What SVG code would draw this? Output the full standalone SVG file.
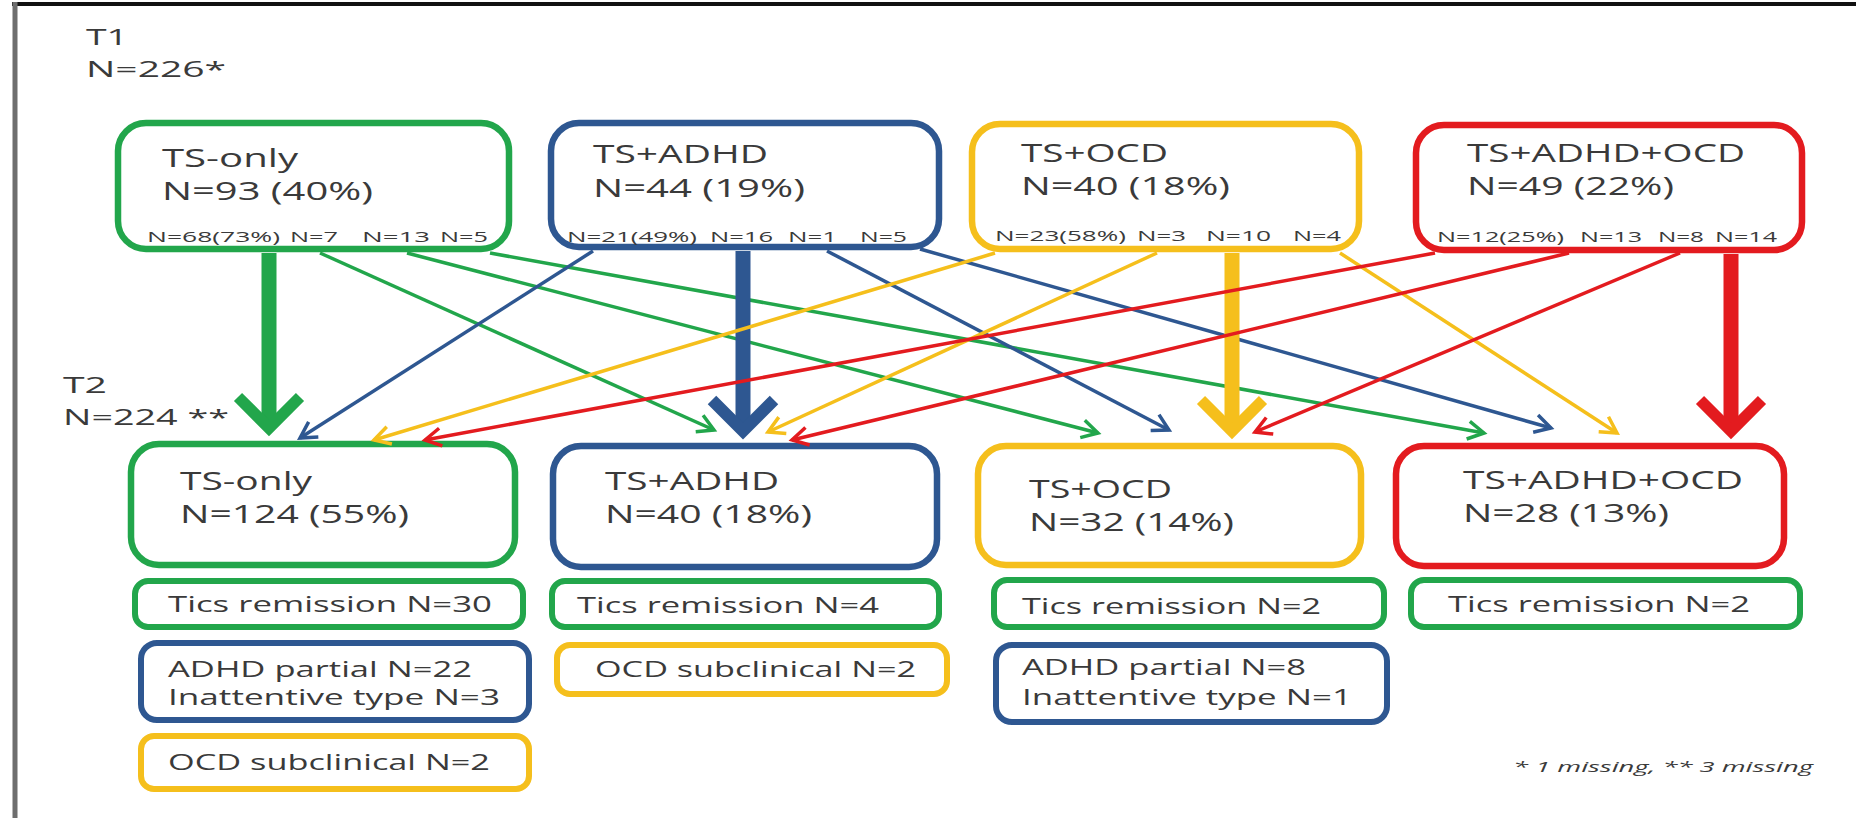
<svg xmlns="http://www.w3.org/2000/svg" width="1856" height="818" viewBox="0 0 1856 818">
<style>
.t{font-family:"Open Sans","Liberation Sans",sans-serif;fill:#3a3a3a;}
.big{font-size:25px;}
.sub{font-size:14px;}
.sm{font-size:21px;}
.lbl{font-size:21px;}
.foot{font-size:15px;font-style:italic;}
.box{fill:#fff;stroke-width:6.5;}
.sbox{fill:#fff;stroke-width:6;}
.g{stroke:#22a64b;}
.b{stroke:#2e5791;}
.y{stroke:#f5bf1c;}
.r{stroke:#e31b1f;}
.thin{fill:none;stroke-width:3.5;}
.thick{fill:none;stroke-width:15;}
</style>
<defs>
<marker id="aG" viewBox="-20 -12 24 24" markerWidth="24" markerHeight="24" refX="0" refY="0" orient="auto" markerUnits="userSpaceOnUse"><path d="M-16,-9 L0,0 L-16,9" fill="none" stroke="#22a64b" stroke-width="3.5"/></marker>
<marker id="aB" viewBox="-20 -12 24 24" markerWidth="24" markerHeight="24" refX="0" refY="0" orient="auto" markerUnits="userSpaceOnUse"><path d="M-16,-9 L0,0 L-16,9" fill="none" stroke="#2e5791" stroke-width="3.5"/></marker>
<marker id="aY" viewBox="-20 -12 24 24" markerWidth="24" markerHeight="24" refX="0" refY="0" orient="auto" markerUnits="userSpaceOnUse"><path d="M-16,-9 L0,0 L-16,9" fill="none" stroke="#f5bf1c" stroke-width="3.5"/></marker>
<marker id="aR" viewBox="-20 -12 24 24" markerWidth="24" markerHeight="24" refX="0" refY="0" orient="auto" markerUnits="userSpaceOnUse"><path d="M-16,-9 L0,0 L-16,9" fill="none" stroke="#e31b1f" stroke-width="3.5"/></marker>
<marker id="tG" viewBox="-45 -45 55 90" markerWidth="55" markerHeight="90" refX="0" refY="0" orient="auto" markerUnits="userSpaceOnUse"><path d="M-31,-31 L0,0 L-31,31" fill="none" stroke="#22a64b" stroke-width="11.5"/></marker>
<marker id="tB" viewBox="-45 -45 55 90" markerWidth="55" markerHeight="90" refX="0" refY="0" orient="auto" markerUnits="userSpaceOnUse"><path d="M-31,-31 L0,0 L-31,31" fill="none" stroke="#2e5791" stroke-width="12"/></marker>
<marker id="tY" viewBox="-45 -45 55 90" markerWidth="55" markerHeight="90" refX="0" refY="0" orient="auto" markerUnits="userSpaceOnUse"><path d="M-31,-31 L0,0 L-31,31" fill="none" stroke="#f5bf1c" stroke-width="11.5"/></marker>
<marker id="tR" viewBox="-45 -45 55 90" markerWidth="55" markerHeight="90" refX="0" refY="0" orient="auto" markerUnits="userSpaceOnUse"><path d="M-31,-31 L0,0 L-31,31" fill="none" stroke="#e31b1f" stroke-width="11.5"/></marker>
</defs>
<rect x="0" y="0" width="1856" height="818" fill="#fff"/>
<g id="frame">
<line x1="12" y1="4" x2="1856" y2="4" stroke="#111" stroke-width="4"/>
<line x1="15" y1="2" x2="15" y2="818" stroke="#6e6e6e" stroke-width="5"/>
</g>
<g id="labels">
<text class="t lbl" x="86" y="45" textLength="42" lengthAdjust="spacingAndGlyphs">T1</text>
<text class="t lbl" x="86" y="77" textLength="140" lengthAdjust="spacingAndGlyphs">N=226*</text>
<text class="t lbl" x="63" y="393" textLength="44" lengthAdjust="spacingAndGlyphs">T2</text>
<text class="t lbl" x="63" y="425" textLength="166" lengthAdjust="spacingAndGlyphs">N=224 **</text>
<text class="t foot" x="1513" y="772" textLength="300" lengthAdjust="spacingAndGlyphs">* 1 missing, ** 3 missing</text>
</g>
<g id="t1-ts-only">
<rect class="box g" x="118" y="123" width="391" height="126" rx="28"/>
<text class="t big" x="162" y="167" textLength="136" lengthAdjust="spacingAndGlyphs">TS-only</text>
<text class="t big" x="162" y="200" textLength="211" lengthAdjust="spacingAndGlyphs">N=93 (40%)</text>
<text class="t sub" x="147" y="242" textLength="133" lengthAdjust="spacingAndGlyphs">N=68(73%)</text>
<text class="t sub" x="290" y="242" textLength="48" lengthAdjust="spacingAndGlyphs">N=7</text>
<text class="t sub" x="362" y="242" textLength="68" lengthAdjust="spacingAndGlyphs">N=13</text>
<text class="t sub" x="440" y="242" textLength="48" lengthAdjust="spacingAndGlyphs">N=5</text>
</g>
<g id="t1-ts-adhd">
<rect class="box b" x="551" y="123" width="388" height="124" rx="28"/>
<text class="t big" x="593" y="163" textLength="175" lengthAdjust="spacingAndGlyphs">TS+ADHD</text>
<text class="t big" x="593" y="197" textLength="212" lengthAdjust="spacingAndGlyphs">N=44 (19%)</text>
<text class="t sub" x="567" y="242" textLength="130" lengthAdjust="spacingAndGlyphs">N=21(49%)</text>
<text class="t sub" x="710" y="242" textLength="63" lengthAdjust="spacingAndGlyphs">N=16</text>
<text class="t sub" x="788" y="242" textLength="49" lengthAdjust="spacingAndGlyphs">N=1</text>
<text class="t sub" x="860" y="242" textLength="47" lengthAdjust="spacingAndGlyphs">N=5</text>
</g>
<g id="t1-ts-ocd">
<rect class="box y" x="972" y="124" width="387" height="125" rx="28"/>
<text class="t big" x="1021" y="162" textLength="147" lengthAdjust="spacingAndGlyphs">TS+OCD</text>
<text class="t big" x="1021" y="195" textLength="209" lengthAdjust="spacingAndGlyphs">N=40 (18%)</text>
<text class="t sub" x="995" y="241" textLength="131" lengthAdjust="spacingAndGlyphs">N=23(58%)</text>
<text class="t sub" x="1137" y="241" textLength="49" lengthAdjust="spacingAndGlyphs">N=3</text>
<text class="t sub" x="1206" y="241" textLength="65" lengthAdjust="spacingAndGlyphs">N=10</text>
<text class="t sub" x="1293" y="241" textLength="48" lengthAdjust="spacingAndGlyphs">N=4</text>
</g>
<g id="t1-ts-adhd-ocd">
<rect class="box r" x="1416" y="125" width="386" height="125" rx="28"/>
<text class="t big" x="1467" y="162" textLength="278" lengthAdjust="spacingAndGlyphs">TS+ADHD+OCD</text>
<text class="t big" x="1467" y="195" textLength="207" lengthAdjust="spacingAndGlyphs">N=49 (22%)</text>
<text class="t sub" x="1437" y="242" textLength="127" lengthAdjust="spacingAndGlyphs">N=12(25%)</text>
<text class="t sub" x="1580" y="242" textLength="62" lengthAdjust="spacingAndGlyphs">N=13</text>
<text class="t sub" x="1658" y="242" textLength="46" lengthAdjust="spacingAndGlyphs">N=8</text>
<text class="t sub" x="1715" y="242" textLength="62" lengthAdjust="spacingAndGlyphs">N=14</text>
</g>
<g id="t2-ts-only">
<rect class="box g" x="131" y="444" width="384" height="121" rx="28"/>
<text class="t big" x="180" y="490" textLength="132" lengthAdjust="spacingAndGlyphs">TS-only</text>
<text class="t big" x="180" y="523" textLength="229" lengthAdjust="spacingAndGlyphs">N=124 (55%)</text>
</g>
<g id="t2-ts-adhd">
<rect class="box b" x="553" y="446" width="384" height="121" rx="28"/>
<text class="t big" x="605" y="490" textLength="174" lengthAdjust="spacingAndGlyphs">TS+ADHD</text>
<text class="t big" x="605" y="523" textLength="207" lengthAdjust="spacingAndGlyphs">N=40 (18%)</text>
</g>
<g id="t2-ts-ocd">
<rect class="box y" x="978" y="446" width="383" height="119" rx="28"/>
<text class="t big" x="1029" y="498" textLength="143" lengthAdjust="spacingAndGlyphs">TS+OCD</text>
<text class="t big" x="1029" y="531" textLength="205" lengthAdjust="spacingAndGlyphs">N=32 (14%)</text>
</g>
<g id="t2-ts-adhd-ocd">
<rect class="box r" x="1396" y="446" width="388" height="120" rx="28"/>
<text class="t big" x="1463" y="489" textLength="280" lengthAdjust="spacingAndGlyphs">TS+ADHD+OCD</text>
<text class="t big" x="1463" y="522" textLength="206" lengthAdjust="spacingAndGlyphs">N=28 (13%)</text>
</g>
<g id="tics-1">
<rect class="sbox g" x="135" y="581" width="388" height="46" rx="13"/>
<text class="t sm" x="168" y="612" textLength="324" lengthAdjust="spacingAndGlyphs">Tics remission  N=30</text>
</g>
<g id="adhd-partial-1">
<rect class="sbox b" x="141" y="643" width="388" height="77" rx="16"/>
<text class="t sm" x="168" y="677" textLength="304" lengthAdjust="spacingAndGlyphs">ADHD partial N=22</text>
<text class="t sm" x="168" y="705" textLength="332" lengthAdjust="spacingAndGlyphs">Inattentive  type N=3</text>
</g>
<g id="ocd-sub-1">
<rect class="sbox y" x="141" y="736" width="388" height="53" rx="13"/>
<text class="t sm" x="168" y="770" textLength="322" lengthAdjust="spacingAndGlyphs">OCD subclinical N=2</text>
</g>
<g id="tics-2">
<rect class="sbox g" x="552" y="581" width="387" height="46" rx="13"/>
<text class="t sm" x="577" y="613" textLength="302" lengthAdjust="spacingAndGlyphs">Tics remission  N=4</text>
</g>
<g id="ocd-sub-2">
<rect class="sbox y" x="557" y="645" width="390" height="49" rx="13"/>
<text class="t sm" x="595" y="677" textLength="321" lengthAdjust="spacingAndGlyphs">OCD subclinical N=2</text>
</g>
<g id="tics-3">
<rect class="sbox g" x="994" y="580" width="390" height="47" rx="13"/>
<text class="t sm" x="1022" y="614" textLength="299" lengthAdjust="spacingAndGlyphs">Tics remission  N=2</text>
</g>
<g id="adhd-partial-3">
<rect class="sbox b" x="996" y="645" width="391" height="77" rx="16"/>
<text class="t sm" x="1022" y="675" textLength="284" lengthAdjust="spacingAndGlyphs">ADHD partial N=8</text>
<text class="t sm" x="1022" y="705" textLength="330" lengthAdjust="spacingAndGlyphs">Inattentive  type N=1</text>
</g>
<g id="tics-4">
<rect class="sbox g" x="1411" y="580" width="389" height="47" rx="13"/>
<text class="t sm" x="1448" y="612" textLength="302" lengthAdjust="spacingAndGlyphs">Tics remission  N=2</text>
</g>
<g id="connectors">
<line class="thick g" x1="269" y1="253" x2="269" y2="428" marker-end="url(#tG)"/>
<line class="thin g" x1="320" y1="253" x2="714" y2="430" marker-end="url(#aG)"/>
<line class="thin g" x1="407" y1="253" x2="1098" y2="433" marker-end="url(#aG)"/>
<line class="thin g" x1="490" y1="253" x2="1484" y2="433" marker-end="url(#aG)"/>
<line class="thin b" x1="593" y1="251" x2="300" y2="438" marker-end="url(#aB)"/>
<line class="thick b" x1="743" y1="251" x2="743" y2="431" stroke-width="17" marker-end="url(#tB)"/>
<line class="thin b" x1="827" y1="251" x2="1169" y2="430" marker-end="url(#aB)"/>
<line class="thin b" x1="920" y1="249" x2="1551" y2="428" marker-end="url(#aB)"/>
<line class="thin y" x1="995" y1="253" x2="374" y2="440" marker-end="url(#aY)"/>
<line class="thin y" x1="1157" y1="253" x2="768" y2="432" marker-end="url(#aY)"/>
<line class="thick y" x1="1232" y1="253" x2="1232" y2="431" marker-end="url(#tY)"/>
<line class="thin y" x1="1340" y1="253" x2="1617" y2="433" marker-end="url(#aY)"/>
<line class="thin r" x1="1435" y1="253" x2="425" y2="440" marker-end="url(#aR)"/>
<line class="thin r" x1="1569" y1="253" x2="792" y2="440" marker-end="url(#aR)"/>
<line class="thin r" x1="1680" y1="253" x2="1255" y2="432" marker-end="url(#aR)"/>
<line class="thick r" x1="1731" y1="254" x2="1731" y2="431" marker-end="url(#tR)"/>
</g>
</svg>
